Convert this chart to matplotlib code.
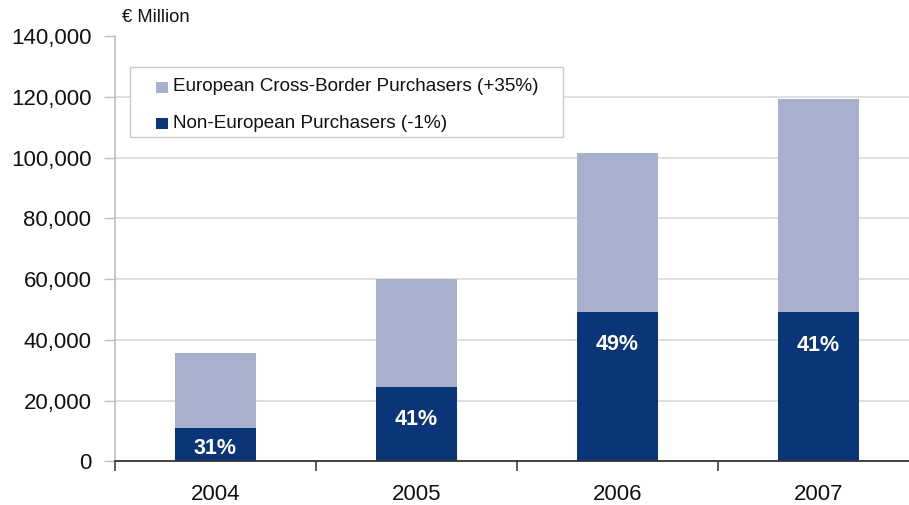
import matplotlib
matplotlib.use("Agg")
import matplotlib.pyplot as plt
from matplotlib.patches import Rectangle
import numpy as np

plt.rcParams['font.family'] = ['Liberation Sans', 'DejaVu Sans']

years = ["2004", "2005", "2006", "2007"]
non_european = [11100, 24600, 49300, 49000]          # € million
european_cross_border = [24700, 35300, 52200, 70300]  # € million
series_labels = ["European Cross-Border Purchasers (+35%)",
                 "Non-European Purchasers (-1%)"]
y_ticks = [0, 20000, 40000, 60000, 80000, 100000, 120000, 140000]
unit_label = "€ Million"

light_col = "#a7b0cc"
dark_col = "#0a3578"
text_col = "#111111"

W, H = 909, 505
fig = plt.figure(figsize=(W / 100, H / 100), dpi=100)
ax = fig.add_axes([115 / W, (H - 461.3) / H, 804 / W, 425.3 / H])

x = np.arange(len(years))
nonEU = np.array(non_european)
eu = np.array(european_cross_border)
total = nonEU + eu

ax.bar(x, nonEU, width=0.40, color=dark_col, zorder=3)
ax.bar(x, eu, width=0.40, bottom=nonEU, color=light_col, zorder=3)

# share of non-European purchasers, written inside the dark segment
for xi, n, t in zip(x, nonEU, total):
    pct = round(n / t * 100)
    ypos = max(n - 11000, n / 2 - 1500)
    ax.text(xi, ypos, f"{pct}%", color="white", fontsize=15.5, fontweight="bold",
            ha="center", va="center", zorder=4)

ax.set_xlim(-0.5, 3.5)
ax.set_ylim(0, 140000)
ax.set_yticks(y_ticks)
ax.set_yticklabels([f"{v:,}" for v in y_ticks], fontsize=16)
for v in y_ticks[1:-1]:
    ax.axhline(v, color="#d9d9d9", lw=1.2, zorder=1)

ax.set_xticks(x)
ax.set_xticklabels(years, fontsize=16)
ax.tick_params(axis="x", length=0, pad=16, labelcolor=text_col)
ax.set_xticks(np.arange(-0.5, 4, 1.0), minor=True)
ax.tick_params(axis="x", which="minor", length=7, width=1.2, color="#404040", direction="out")
ax.tick_params(axis="y", length=8, width=1.0, color="#bfbfbf", pad=9, labelcolor=text_col)

for s in ["top", "right"]:
    ax.spines[s].set_visible(False)
ax.spines["left"].set_color("#bfbfbf")
ax.spines["left"].set_linewidth(1.2)
ax.spines["bottom"].set_color("#333333")
ax.spines["bottom"].set_linewidth(1.3)
ax.spines["bottom"].set_zorder(5)

fig.text(122 / W, 1 - 18 / H, unit_label, fontsize=13.2, ha="left", va="center", color=text_col)

# legend box drawn in figure pixel space
def fx(px):
    return px / W

def fy(py):
    return 1 - py / H

fig.patches.append(Rectangle((fx(130), fy(137)), fx(563) - fx(130), fy(67) - fy(137),
                             transform=fig.transFigure, facecolor="white",
                             edgecolor="#c8c8c8", lw=1.0, zorder=5))
for row_y, col, lab in zip([87, 123], [light_col, dark_col], series_labels):
    fig.patches.append(Rectangle((fx(156), fy(row_y + 6)), fx(12), 11 / H,
                                 transform=fig.transFigure, facecolor=col,
                                 edgecolor="none", zorder=6))
    fig.text(fx(173), fy(row_y), lab, fontsize=13.6, ha="left", va="center",
             color=text_col, zorder=7)

fig.savefig("out.png", dpi=100)
